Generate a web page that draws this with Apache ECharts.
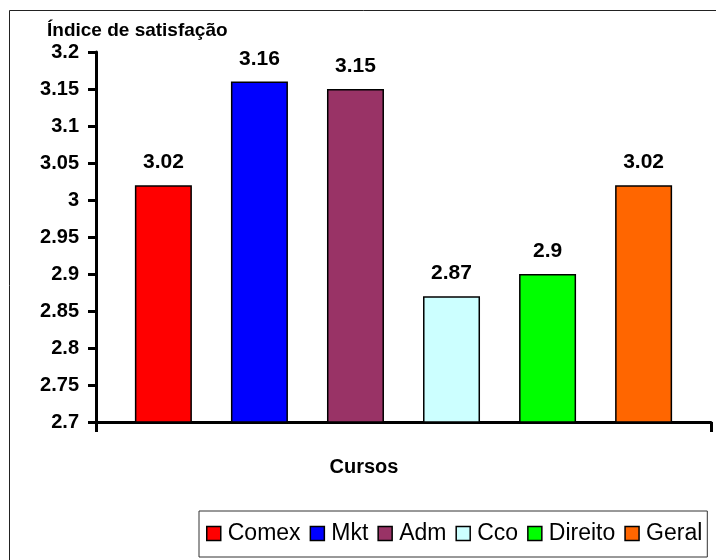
<!DOCTYPE html>
<html>
<head>
<meta charset="utf-8">
<script src="https://cdn.jsdelivr.net/npm/echarts@6/dist/echarts.min.js"></script>
<style>
html,body{margin:0;padding:0;background:#fff;}
#chart{width:716px;height:560px;}
</style>
</head>
<body>
<div id="chart"></div>
<script>
var cursos = ['Comex', 'Mkt', 'Adm', 'Cco', 'Direito', 'Geral'];
var indices = [3.02, 3.16, 3.15, 2.87, 2.90, 3.02];
var cores = ['#FF0000', '#0000FF', '#993366', '#CCFFFF', '#00FF00', '#FF6600'];
var yTicks = { min: 2.7, max: 3.2, interval: 0.05 };
var FONT = 'Arial, "Liberation Sans", sans-serif';

var chart = echarts.init(document.getElementById('chart'));
var series = cursos.map(function (name, i) {
  return {
    name: name,
    type: 'bar',
    data: [indices[i]],
    barWidth: 57,
    barGap: '68.5%',
    itemStyle: { color: cores[i], borderColor: '#000', borderWidth: 1.5 },
    label: {
      show: true, position: 'top', distance: 12,
      fontFamily: FONT, fontWeight: 'bold', fontSize: 21, color: '#000',
      formatter: function (p) { return String(p.value); }
    }
  };
});

chart.setOption({
  animation: false,
  backgroundColor: '#fff',
  graphic: [{
    type: 'rect', shape: { x: 9.5, y: 10.5, width: 720, height: 570 },
    style: { fill: 'none', stroke: '#222', lineWidth: 1 }, silent: true, z: -1
  }],
  grid: { left: 96, top: 52, right: 5, bottom: 138, containLabel: false },
  legend: {
    data: cursos,
    left: 199, top: 511,
    orient: 'horizontal',
    icon: 'rect',
    itemWidth: 14, itemHeight: 14, itemGap: 9,
    padding: [11, 5, 12, 7],
    borderColor: '#333', borderWidth: 1,
    textStyle: { fontFamily: FONT, fontSize: 23, color: '#000', padding: [0, 0, 0, 2] },
    itemStyle: { borderColor: '#000', borderWidth: 1.5 }
  },
  xAxis: {
    type: 'category',
    data: [''],
    name: 'Cursos',
    nameLocation: 'middle',
    nameGap: 35,
    nameTextStyle: { fontFamily: FONT, fontWeight: 'bold', fontSize: 20, color: '#000', padding: [0, 79, 0, 0] },
    axisLine: { lineStyle: { color: '#000', width: 3 } },
    axisTick: { show: true, length: 10, lineStyle: { color: '#000', width: 3 } },
    axisLabel: { show: false }
  },
  yAxis: {
    type: 'value',
    min: yTicks.min, max: yTicks.max, interval: yTicks.interval,
    name: 'Índice de satisfação',
    nameLocation: 'end',
    nameGap: 12,
    nameTextStyle: { fontFamily: FONT, fontWeight: 'bold', fontSize: 19, color: '#000', align: 'left', padding: [0, 0, 0, -49] },
    axisLine: { show: true, lineStyle: { color: '#000', width: 3 } },
    axisTick: { show: true, length: 8, lineStyle: { color: '#000', width: 3 } },
    axisLabel: {
      fontFamily: FONT, fontWeight: 'bold', fontSize: 20, color: '#000', margin: 17,
      formatter: function (v) { return String(Math.round(v * 100) / 100); }
    },
    splitLine: { show: false }
  },
  series: series
});
</script>
</body>
</html>
